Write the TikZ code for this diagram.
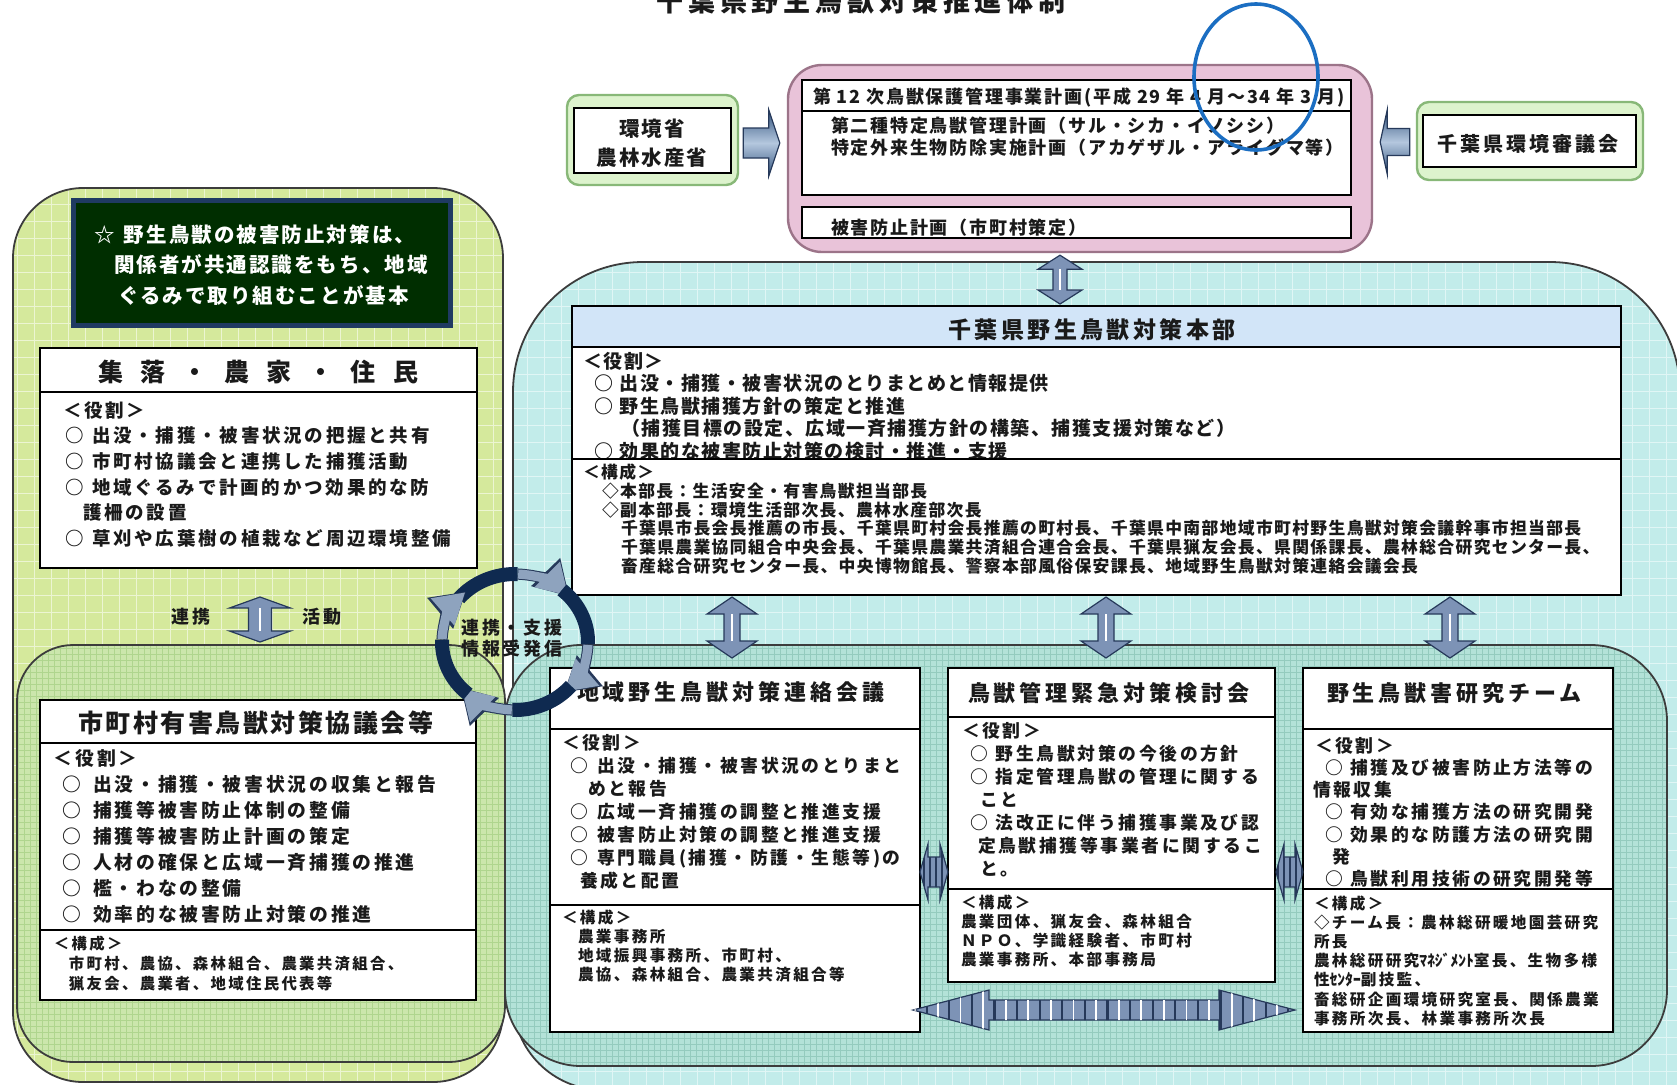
\documentclass[tikz,border=0pt]{standalone}
\usepackage{fontspec}
\newfontfamily\jp{Noto Sans CJK JP}
\newfontfamily\jpA{Noto Sans CJK JP}[LetterSpace=8]
\newfontfamily\jpB{Noto Sans CJK JP}[LetterSpace=15]
\newfontfamily\jpC{Noto Sans CJK JP}[LetterSpace=18]
\newfontfamily\jpD{Noto Sans CJK JP}[LetterSpace=22]
\newfontfamily\jpE{Noto Sans CJK JP}[LetterSpace=10]
\usetikzlibrary{fit,calc,arrows.meta,patterns.meta}

\definecolor{gfill}{HTML}{D5E99C}
\definecolor{gfill2}{HTML}{CBE6AC}
\definecolor{ggrid2}{HTML}{AFD58E}
\definecolor{cfill}{HTML}{C2ECEA}
\definecolor{cfill2}{HTML}{B3E2D8}
\definecolor{cgrid2}{HTML}{94CBBE}
\definecolor{pfill}{HTML}{E9C3D9}
\definecolor{pline}{HTML}{9C7489}
\definecolor{lgfill}{HTML}{DDF3CD}
\definecolor{lgline}{HTML}{88B878}
\definecolor{hqblue}{HTML}{D2E5F8}
\definecolor{dgfill}{HTML}{002E00}
\definecolor{dgline}{HTML}{1F3A62}
\definecolor{arfill}{HTML}{7D93B6}
\definecolor{arline}{HTML}{26395A}
\definecolor{cyD}{HTML}{0F2A50}
\definecolor{cyL}{HTML}{8EA3BE}
\definecolor{cylD}{HTML}{34557F}
\definecolor{cylL}{HTML}{B4C7DE}
\definecolor{ellblue}{HTML}{1B6EC2}
\definecolor{regline}{HTML}{3C3C3C}
\definecolor{ink}{HTML}{1A1A1A}

% text lines: style, name prefix, x, first baseline, step, list
\newcommand\tlines[6]{\foreach \t [count=\i from 0] in {#6}{\node[tl,#1] (#2\i) at (#3,{#4+\i*#5}) {\t};}}
% vertical double block arrow: top tip, bottom tip, shaft half, head half, head length, style
\newcommand\vdarrow[6]{%
 \filldraw[darr,#6] (#1) -- ++(#4,#5) -- ++({#3-#4},0) -- ($(#2)+(#3,-#5)$) -- ++({#4-#3},0) -- (#2) -- ++(-#4,-#5) -- ++({#4-#3},0) -- ($(#1)+(-#3,#5)$) -- ++({#3-#4},0) -- cycle;
 \draw[white,line width=1.4pt] ($(#1)+(0,#5)$) -- ($(#2)+(0,-#5)$);}
% horizontal double block arrow: left tip, right tip, shaft half, head half, head length, style
\newcommand\hdarrow[6]{%
 \filldraw[darr,#6] (#1) -- ++(#5,-#4) -- ++(0,{#4-#3}) -- ($(#2)+(-#5,-#3)$) -- ++(0,{#3-#4}) -- (#2) -- ++(-#5,#4) -- ++(0,{#3-#4}) -- ($(#1)+(#5,#3)$) -- ++(0,{#4-#3}) -- cycle;}
\newcommand\hk[1]{{\addfontfeature{LetterSpace=0}#1}}

\begin{document}
\begin{tikzpicture}[x=0.5pt,y=-0.5pt,
 tl/.style={anchor=base west,inner sep=0pt,outer sep=0pt,text=ink},
 tc/.style={anchor=base,inner sep=0pt,outer sep=0pt,text=ink},
 wbox/.style={draw=black,line width=1pt,fill=white,inner sep=0pt,outer sep=0pt},
 darr/.style={fill=arfill,draw=arline,line width=0.6pt,line join=miter},
 fTitle/.style={font=\jpC\fontsize{13.5pt}{13.5pt}\selectfont\bfseries},
 fEnv/.style={font=\jpE\fontsize{10.25pt}{10.25pt}\selectfont\bfseries},
 fCouncil/.style={font=\jpB\fontsize{10pt}{10pt}\selectfont\bfseries},
 fPink/.style={font=\jpE\fontsize{9pt}{9pt}\selectfont\bfseries},
 fDG/.style={font=\jpE\fontsize{10.25pt}{10.25pt}\selectfont\bfseries,text=white},
 fShurH/.style={font=\jp\fontsize{12.5pt}{12.5pt}\selectfont\bfseries},
 fShur/.style={font=\jpB\fontsize{9.25pt}{9.25pt}\selectfont\bfseries},
 fMunH/.style={font=\jpE\fontsize{12.5pt}{12.5pt}\selectfont\bfseries},
 fMun/.style={font=\jpB\fontsize{9.4pt}{9.4pt}\selectfont\bfseries},
 fMunC/.style={font=\jpB\fontsize{7.7pt}{7.7pt}\selectfont\bfseries},
 fLbl/.style={font=\jpB\fontsize{9pt}{9pt}\selectfont\bfseries},
 fCyc/.style={font=\jpB\fontsize{9pt}{9pt}\selectfont\bfseries},
 fHQH/.style={font=\jpB\fontsize{11.5pt}{11.5pt}\selectfont\bfseries},
 fHQ/.style={font=\jpA\fontsize{9.5pt}{9.5pt}\selectfont\bfseries},
 fHQC/.style={font=\jpA\fontsize{8.4pt}{8.4pt}\selectfont\bfseries},
 fComH/.style={font=\jpC\fontsize{11pt}{11pt}\selectfont\bfseries},
 fComR/.style={font=\jpB\fontsize{8.9pt}{8.9pt}\selectfont\bfseries},
 fComC/.style={font=\jpB\fontsize{7.8pt}{7.8pt}\selectfont\bfseries}
]
\useasboundingbox (0,0) rectangle (1677,1084);
\fill[white] (0,0) rectangle (1677,1084);

% ---------- regions ----------
\begin{scope}
 \clip[rounded corners=35pt] (13,188) rectangle (503,1082);
 \fill[gfill] (0,180) rectangle (520,1090);
 \draw[white!55!gfill,line width=0.35pt,step=8.5pt] (0,1090) grid (520,180);
\end{scope}
\draw[regline,line width=0.9pt,rounded corners=35pt] (13,188) rectangle (503,1082);

\begin{scope}
 \clip (1100,1090) -- (603,1090) .. controls (553,1090) and (513,1050) .. (513,1000) -- (513,392) .. controls (513,320) and (571,262) .. (643,262) -- (1550,262) .. controls (1622,262) and (1680,320) .. (1680,392) -- (1680,1090) -- cycle;
 \fill[cfill] (500,250) rectangle (1690,1095);
 \draw[white!50!cfill,line width=0.35pt,step=8.5pt] (500,1095) grid (1690,250);
\end{scope}
\draw[regline,line width=0.9pt] (1100,1090) -- (603,1090) .. controls (553,1090) and (513,1050) .. (513,1000) -- (513,392) .. controls (513,320) and (571,262) .. (643,262) -- (1550,262) .. controls (1622,262) and (1680,320) .. (1680,392) -- (1680,1090) -- cycle;

\begin{scope}
 \clip[rounded corners=28pt] (17,645) rectangle (505,1062);
 \fill[gfill2] (10,640) rectangle (510,1070);
 \draw[ggrid2,line width=0.25pt,step=3pt] (10,1070) grid (510,640);
\end{scope}
\draw[regline,line width=0.9pt,rounded corners=28pt] (17,645) rectangle (505,1062);

\begin{scope}
 \clip[rounded corners=38pt] (505,645) rectangle (1667,1066);
 \fill[cfill2] (500,640) rectangle (1670,1070);
 \draw[cgrid2,line width=0.25pt,step=3pt] (500,1070) grid (1670,640);
\end{scope}
\draw[regline,line width=0.9pt,rounded corners=38pt] (505,645) rectangle (1667,1066);

% ---------- top plan area ----------
\node[fit={(567,95) (738,185)},inner sep=0pt,rounded corners=6pt,fill=lgfill,draw=lgline,line width=1.2pt] (envo) {};
\node[wbox,fit={(574,108) (731,173)}] (envi) {};
\node[tc,fEnv] (envt1) at (652,136) {環境省};
\node[tc,fEnv] (envt2) at (652,165) {農林水産省};

\node[fit={(1417,102) (1643,180)},inner sep=0pt,rounded corners=6pt,fill=lgfill,draw=lgline,line width=1.2pt] (councilo) {};
\node[wbox,fit={(1423,115) (1636,167)}] (councili) {};
\node[tc,fCouncil] (councilt) at (1528,151) {千葉県環境審議会};

\node[fit={(788,65) (1372,252)},inner sep=0pt,rounded corners=17pt,fill=pfill,draw=pline,line width=1.2pt] (plan) {};
\node[wbox,fit={(802,80) (1351,195)}] (planA) {};
\draw[line width=1pt] (802,111) -- (1351,111);
\node[wbox,fit={(802,207) (1351,238)}] (planB) {};
\node[tl,fPink] (planh) at (813,103) {第 12 次鳥獣保護管理事業計画(平成 29 年 4 月～34 年 3 月)};
\tlines{fPink}{planl}{831}{132}{22}{{第二種特定鳥獣管理計画（サル・シカ・イノシシ）},{特定外来生物防除実施計画（アカゲザル・アライグマ等）}}
\node[tl,fPink] (planb) at (831,234) {被害防止計画（市町村策定）};

% side arrows into plan
\coordinate (la1) at ($(envo.east)+(4,3)$);
\coordinate (la2) at ($(plan.west)+(-7,-15.5)$);
\path[draw=arline,line width=0.6pt,top color=cylD,bottom color=cylD,middle color=cylL] ($(la1)+(0,-15)$) -- ($(la2)+(-11,-15)$) -- ($(la2)+(-11,-33)$) -- (la2) -- ($(la2)+(-11,33)$) -- ($(la2)+(-11,15)$) -- ($(la1)+(0,15)$) -- cycle;
\coordinate (ra1) at ($(councilo.west)+(-6,1)$);
\coordinate (ra2) at ($(plan.east)+(7,-16.5)$);
\path[draw=arline,line width=0.6pt,top color=cylD,bottom color=cylD,middle color=cylL] ($(ra1)+(0,-13.5)$) -- ($(ra2)+(7,-13.5)$) -- ($(ra2)+(7,-32)$) -- (ra2) -- ($(ra2)+(7,32)$) -- ($(ra2)+(7,13.5)$) -- ($(ra1)+(0,13.5)$) -- cycle;

% ---------- left column ----------
\node[fit={(73,200) (450,325)},inner sep=0pt,fill=dgfill,draw=dgline,line width=2.5pt] (dg) {};
\tlines{fDG}{dgl}{94}{242}{30.5}{{☆\hspace{4.75pt}野生鳥獣の被害防止対策は、},{\hspace*{10pt}関係者が共通認識をもち、地域},{\hspace*{12pt}ぐるみで取り組むことが基本}}

\node[wbox,fit={(40,348) (477,568)}] (shuraku) {};
\draw[line width=1pt] (40,392) -- (477,392);
\node[tl,fShurH] (shurakuh) at (98,381) {\makebox[160pt][s]{集\hfill 落\hfill ・\hfill 農\hfill 家\hfill ・\hfill 住\hfill 民}};
\tlines{fShur}{shr}{63}{417}{25.7}{{＜役割＞},{\hspace*{1pt}○\hspace{4.3pt}出没・捕獲・被害状況の把握と共有},{\hspace*{1pt}○\hspace{4.3pt}市町村協議会と連携した捕獲活動},{\hspace*{1pt}○\hspace{4.3pt}地域ぐるみで計画的かつ効果的な防},{\hspace*{10pt}護柵の設置},{\hspace*{1pt}○\hspace{4.3pt}草刈や広葉樹の植栽など周辺環境整備}}

\node[wbox,fit={(40,700) (476,1000)}] (mun) {};
\draw[line width=1pt] (40,743) -- (476,743);
\draw[line width=1pt] (40,930) -- (476,930);
\node[tl,fMunH] (munh) at (78,732.5) {市町村有害鳥獣対策協議会等};
\tlines{fMun}{munr}{54}{765}{26}{{＜役割＞},{\hspace*{4.5pt}○\hspace{5.7pt}出没・捕獲・被害状況の収集と報告},{\hspace*{4.5pt}○\hspace{5.7pt}捕獲等被害防止体制の整備},{\hspace*{4.5pt}○\hspace{5.7pt}捕獲等被害防止計画の策定},{\hspace*{4.5pt}○\hspace{5.7pt}人材の確保と広域一斉捕獲の推進},{\hspace*{4.5pt}○\hspace{5.7pt}檻・わなの整備},{\hspace*{4.5pt}○\hspace{5.7pt}効率的な被害防止対策の推進}}
\tlines{fMunC}{munc}{54}{949}{20}{{＜構成＞},{\hspace*{7.5pt}市町村、農協、森林組合、農業共済組合、},{\hspace*{7.5pt}猟友会、農業者、地域住民代表等}}

\coordinate (sm1) at ($(shuraku.south)+(1.5,29)$);
\coordinate (sm2) at ($(mun.north)+(2,-58)$);
\vdarrow{sm1}{sm2}{11.5}{30.5}{11}{}
\node[tc,fLbl] (lblA) at (191,623) {連携};
\node[tc,fLbl] (lblB) at (322,623) {活動};

% ---------- headquarters ----------
\node[wbox,fit={(572,306) (1621,595)}] (hq) {};
\fill[hqblue] (573,307) rectangle (1620,347);
\draw[line width=1pt] (572,347) -- (1621,347);
\node[tc,fHQH] (hqh) at (1092,338) {千葉県野生鳥獣対策本部};
\tlines{fHQ}{hqr}{583}{368}{22.5}{{＜役割＞},{\hspace*{5.5pt}○\hspace{3.25pt}出没・捕獲・被害状況のとりまとめと情報提供},{\hspace*{5.5pt}○\hspace{3.25pt}野生鳥獣捕獲方針の策定と推進},{\hspace*{19pt}（捕獲目標の設定、広域一斉捕獲方針の構築、捕獲支援対策など）},{\hspace*{5.5pt}○\hspace{3.25pt}効果的な被害防止対策の検討・推進・支援}}
\draw[line width=1pt] (572,459) -- (1621,459);
\tlines{fHQC}{hqc}{583}{478.5}{18.8}{{＜構成＞},{\hspace*{9.5pt}◇本部長：生活安全・有害鳥獣担当部長},{\hspace*{9.5pt}◇副本部長：環境生活部次長、農林水産部次長},{\hspace*{19pt}千葉県市長会長推薦の市長、千葉県町村会長推薦の町村長、千葉県中南部地域市町村野生鳥獣対策会議幹事市担当部長},{\hspace*{19pt}千葉県農業協同組合中央会長、千葉県農業共済組合連合会長、千葉県猟友会長、県関係課長、農林総合研究センター長、},{\hspace*{19pt}畜産総合研究センター長、中央博物館長、警察本部風俗保安課長、地域野生鳥獣対策連絡会議会長}}
\draw[line width=1pt] (hq.north west) rectangle (hq.south east);

% ---------- committees ----------
\node[wbox,fit={(550,668) (920,1032)}] (ca) {};
\draw[line width=1pt] (550,729) -- (920,729);
\draw[line width=1pt] (550,905) -- (920,905);
\node[tl,fComH] (cah) at (577,700) {地域野生鳥獣対策連絡会議};
\tlines{fComR}{car}{562}{749}{23}{{＜役割＞},{\hspace*{4pt}○\hspace{4.75pt}出没・捕獲・被害状況のとりまと},{\hspace*{13pt}めと報告},{\hspace*{4pt}○\hspace{4.75pt}広域一斉捕獲の調整と推進支援},{\hspace*{4pt}○\hspace{4.75pt}被害防止対策の調整と推進支援},{\hspace*{4pt}○\hspace{4.75pt}専門職員(捕獲・防護・生態等)の},{\hspace*{9pt}養成と配置}}
\tlines{fComC}{cac}{562}{923}{19}{{＜構成＞},{\hspace*{8pt}農業事務所},{\hspace*{8pt}地域振興事務所、市町村、},{\hspace*{8pt}農協、森林組合、農業共済組合等}}

\node[wbox,fit={(948,668) (1275,982)}] (cb) {};
\draw[line width=1pt] (948,717) -- (1275,717);
\draw[line width=1pt] (948,889) -- (1275,889);
\node[tl,fComH] (cbh) at (968,701) {鳥獣管理緊急対策検討会};
\tlines{fComR}{cbr}{962}{737}{23}{{＜役割＞},{\hspace*{4pt}○\hspace{4pt}野生鳥獣対策の今後の方針},{\hspace*{4pt}○\hspace{4pt}指定管理鳥獣の管理に関する},{\hspace*{9pt}こと},{\hspace*{4pt}○\hspace{4pt}法改正に伴う捕獲事業及び認},{\hspace*{8pt}定鳥獣捕獲等事業者に関するこ},{\hspace*{9pt}と。}}
\tlines{fComC}{cbc}{961}{908}{19}{{＜構成＞},{農業団体、猟友会、森林組合},{ＮＰＯ、学識経験者、市町村},{農業事務所、本部事務局}}

\node[wbox,fit={(1303,668) (1613,1032)}] (cc) {};
\draw[line width=1pt] (1303,729) -- (1613,729);
\draw[line width=1pt] (1303,889) -- (1613,889);
\node[tl,fComH] (cch) at (1327,701) {野生鳥獣害研究チーム};
\tlines{fComR}{ccr}{1315}{752}{22.3}{{＜役割＞},{\hspace*{5pt}○\hspace{3.7pt}捕獲及び被害防止方法等の},{\hspace*{-1pt}情報収集},{\hspace*{5pt}○\hspace{3.7pt}有効な捕獲方法の研究開発},{\hspace*{5pt}○\hspace{3.7pt}効果的な防護方法の研究開},{\hspace*{8.5pt}発},{\hspace*{5pt}○\hspace{3.7pt}鳥獣利用技術の研究開発等}}
\tlines{fComC}{ccc}{1314}{909}{19.2}{{＜構成＞},{◇チーム長：農林総研暖地園芸研究},{所長},{農林総研研究\hk{ﾏﾈｼﾞﾒﾝﾄ}室長、生物多様},{性\hk{ｾﾝﾀｰ}副技監、},{畜総研企画環境研究室長、関係農業},{事務所次長、林業事務所次長}}

% ---------- block arrows ----------
\coordinate (p1) at ($(plan.south)+(-20,2)$);
\coordinate (p2) at ($(hq.north)+(-36.5,-2)$);
\vdarrow{p1}{p2}{7}{22}{14}{}
\coordinate (h1) at ($(hq.south)+(-364.5,2)$);
\coordinate (h2) at ($(ca.north)+(-3,-10)$);
\vdarrow{h1}{h2}{8}{25}{17}{}
\coordinate (h3) at ($(hq.south)+(9.5,2)$);
\coordinate (h4) at ($(cb.north)+(-5.5,-10)$);
\vdarrow{h3}{h4}{8}{25}{17}{}
\coordinate (h5) at ($(hq.south)+(353.5,2)$);
\coordinate (h6) at ($(cc.north)+(-8,-10)$);
\vdarrow{h5}{h6}{8}{25}{17}{}

\coordinate (s1) at ($(ca.east)+(0,22)$);
\coordinate (s2) at ($(cb.west)+(0,47)$);
\hdarrow{s1}{s2}{15}{28}{8}{postaction={pattern={Lines[angle=90,distance=3pt,line width=0.6pt]},pattern color=arline}}
\coordinate (s3) at ($(cb.east)+(1,47)$);
\coordinate (s4) at ($(cc.west)+(0,22)$);
\hdarrow{s3}{s4}{15}{28}{8}{postaction={pattern={Lines[angle=90,distance=3pt,line width=0.6pt]},pattern color=arline}}

\coordinate (b1) at ($(ca.east)+(-7,160)$);
\coordinate (b2) at ($(cc.west)+(-8,160)$);
\hdarrow{b1}{b2}{10}{20}{76}{postaction={pattern={Lines[angle=90,distance=11.3pt,line width=1.1pt]},pattern color=arline},postaction={pattern={Lines[angle=90,distance=11.3pt,xshift=5.65pt,line width=0.9pt]},pattern color=white}}

% ---------- cycle arrows ----------
\coordinate (cyc) at (515,642);
\foreach \s in {140,50,-40,-130}{
 \draw[cyD,line width=7pt] (cyc) ++(\s:36.5pt and 34pt) arc[start angle=\s,end angle=\s-52,x radius=36.5pt,y radius=34pt];
 \draw[arline,line width=5.6pt,-{Triangle[width=19pt,length=17pt]}] (cyc) ++(\s-52:36.5pt and 34pt) arc[start angle=\s-52,end angle=\s-98,x radius=36.5pt,y radius=34pt];
 \draw[cyL,line width=4.6pt,-{Triangle[width=17pt,length=15pt]}] (cyc) ++(\s-52.5:36.5pt and 34pt) arc[start angle=\s-52.5,end angle=\s-97,x radius=36.5pt,y radius=34pt];
}
\node[tc,fCyc] (cyct1) at (512,634) {連携・支援};
\node[tc,fCyc] (cyct2) at (512,655) {情報受発信};

% ---------- title & annotation ----------
\node[tc,fTitle] (title) at (861,11) {千葉県野生鳥獣対策推進体制};
\draw[ellblue,line width=1.8pt] (1256,77) ellipse [x radius=31pt,y radius=36.5pt];
\end{tikzpicture}
\end{document}
